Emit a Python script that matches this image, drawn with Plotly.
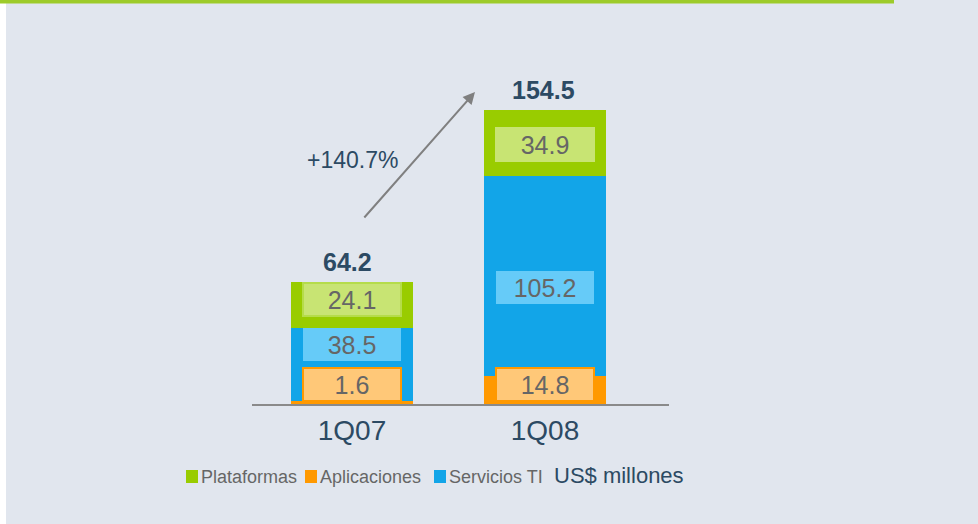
import plotly.graph_objects as go

periods = ["1Q07", "1Q08"]
aplicaciones = [1.6, 14.8]
servicios_ti = [38.5, 105.2]
plataformas = [24.1, 34.9]
totals = [64.2, 154.5]

FONT = "Liberation Sans"
DARK = "#2C4A63"
GREY = "#666666"
GREEN, ORANGE, BLUE = "#99CC00", "#FF9900", "#12A5E8"
GREEN_L, ORANGE_L, BLUE_L = "#C8E473", "#FFC878", "#66CBF8"

# plot area in pixels (978x524 canvas)
L, R, T, B = 252, 669, 60, 404
W, H = 978, 524


def px(x):
    return (x - L) / (R - L)


def py(y):
    return (B - y) / (B - T)


fig = go.Figure()
for name, vals, col in [
    ("Aplicaciones", aplicaciones, ORANGE),
    ("Servicios TI", servicios_ti, BLUE),
    ("Plataformas", plataformas, GREEN),
]:
    fig.add_trace(
        go.Bar(x=periods, y=vals, name=name, marker_color=col,
               marker_line_width=0, width=0.627, showlegend=False)
    )

annotations = []
box_font = dict(size=25, color=GREY, family=FONT)
# value boxes inside bars
for i, p in enumerate(periods):
    annotations.append(dict(
        x=p, y=0, yanchor="bottom", yshift=2, text=f"{aplicaciones[i]:.1f}",
        showarrow=False, bgcolor=ORANGE_L, bordercolor=ORANGE, borderwidth=2,
        width=94, height=29, font=box_font,
    ))
    mid_blue = aplicaciones[i] + servicios_ti[i] / 2
    annotations.append(dict(
        x=p, y=mid_blue, yshift=[20, -12][i], text=f"{servicios_ti[i]:.1f}",
        showarrow=False, bgcolor=BLUE_L, bordercolor=BLUE_L, borderwidth=1,
        width=94, height=29, font=box_font,
    ))
    mid_green = aplicaciones[i] + servicios_ti[i] + plataformas[i] / 2
    annotations.append(dict(
        x=p, y=mid_green, yshift=[5, -2][i], text=f"{plataformas[i]:.1f}",
        showarrow=False, bgcolor=GREEN_L,
        bordercolor=["#B5DC4A", GREEN_L][i], borderwidth=2,
        width=94, height=29, font=box_font,
    ))
    annotations.append(dict(
        x=p, y=totals[i], yanchor="bottom", yshift=4, xshift=[-5, -2][i],
        text=f"<b>{totals[i]:.1f}</b>", showarrow=False,
        font=dict(size=25, color=DARK, family=FONT),
    ))

# growth arrow
growth = (totals[1] / totals[0] - 1) * 100
annotations.append(dict(
    x=px(475), y=py(92), xref="paper", yref="paper",
    ax=363 - 475, ay=219 - 92, axref="pixel", ayref="pixel",
    showarrow=True, arrowhead=2, arrowsize=1.2, arrowwidth=2,
    arrowcolor="#808080", text="",
))
annotations.append(dict(
    x=px(352), y=py(160), xref="paper", yref="paper", text=f"+{growth:.1f}%",
    xanchor="center", yanchor="middle",
    showarrow=False, font=dict(size=23, color=DARK, family=FONT),
))

# background, top rule and legend
shapes = [
    dict(type="rect", xref="paper", yref="paper", x0=px(-10), x1=px(W + 10),
         y0=py(H + 10), y1=py(0), fillcolor="#E1E6EE", line_width=0, layer="below"),
    dict(type="rect", xref="paper", yref="paper", x0=px(-2), x1=px(6),
         y0=py(H + 10), y1=py(3), fillcolor="white", line_width=0, layer="below"),
    dict(type="rect", xref="paper", yref="paper", x0=px(-2), x1=px(894),
         y0=py(3.5), y1=py(-2), fillcolor="#9DCB2A", line_width=0, layer="above"),
]
legend_items = [("Plataformas", GREEN, 186), ("Aplicaciones", ORANGE, 305),
                ("Servicios TI", BLUE, 434)]
for name, col, x0 in legend_items:
    shapes.append(dict(type="rect", xref="paper", yref="paper", x0=px(x0),
                       x1=px(x0 + 12), y0=py(483), y1=py(470), fillcolor=col,
                       line_width=0))
    annotations.append(dict(
        x=px(x0 + 13), y=py(477), xref="paper", yref="paper",
        xanchor="left", yanchor="middle",
        text=name, showarrow=False, font=dict(size=18, color=GREY, family=FONT),
    ))
annotations.append(dict(
    x=px(552), y=py(475), xref="paper", yref="paper",
    xanchor="left", yanchor="middle",
    text="US$ millones", showarrow=False,
    font=dict(size=22, color=DARK, family=FONT),
))

fig.update_layout(
    barmode="stack",
    width=W, height=H,
    margin=dict(l=L, r=W - R, t=T, b=H - B),
    paper_bgcolor="white",
    plot_bgcolor="rgba(0,0,0,0)",
    annotations=annotations,
    shapes=shapes,
    font=dict(family=FONT),
)
fig.update_xaxes(
    range=[-100 / 193, (R - 352) / 193],
    showline=True, linecolor="#8A8A8A", linewidth=2, showgrid=False,
    ticks="", tickfont=dict(size=28, color=DARK, family=FONT),
)
fig.update_yaxes(range=[0, (B - T) / 1.9], visible=False)

# drop the default page margin so the figure sits at the window origin
fig.write_html(
    "out.html",
    config={"displayModeBar": False},
    post_script="document.body.style.margin='0';",
)
